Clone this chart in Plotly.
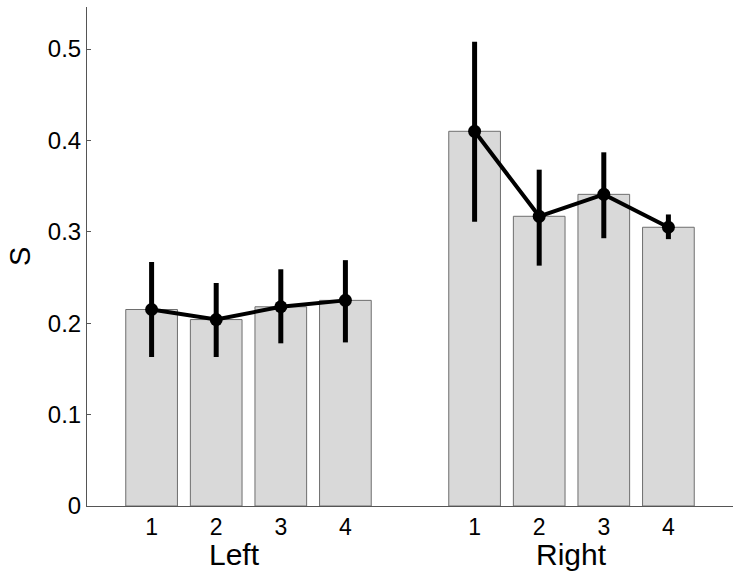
import plotly.graph_objects as go

positions_left = [1, 2, 3, 4]
positions_right = [6, 7, 8, 9]
left_values = [0.215, 0.204, 0.218, 0.225]
right_values = [0.410, 0.317, 0.341, 0.305]
left_err_plus = [0.052, 0.040, 0.041, 0.044]
left_err_minus = [0.052, 0.041, 0.040, 0.046]
right_err_plus = [0.098, 0.051, 0.046, 0.014]
right_err_minus = [0.099, 0.054, 0.048, 0.013]
tick_labels = ["1", "2", "3", "4", "1", "2", "3", "4"]
group_labels = ["Left", "Right"]
y_ticks = [0, 0.1, 0.2, 0.3, 0.4, 0.5]
y_tick_text = ["0", "0.1", "0.2", "0.3", "0.4", "0.5"]

FONT = "Liberation Sans, Arial, Helvetica, sans-serif"

fig = go.Figure()

fig.add_trace(go.Bar(
    x=positions_left + positions_right,
    y=left_values + right_values,
    width=0.8,
    marker=dict(color="#d9d9d9", line=dict(color="#6e6e6e", width=1)),
    showlegend=False,
))

for xs, ys, ep, em in [
    (positions_left, left_values, left_err_plus, left_err_minus),
    (positions_right, right_values, right_err_plus, right_err_minus),
]:
    fig.add_trace(go.Scatter(
        x=xs, y=ys,
        mode="lines+markers",
        line=dict(color="black", width=4),
        marker=dict(color="black", size=13),
        error_y=dict(type="data", array=ep, arrayminus=em,
                     color="black", thickness=5, width=0),
        showlegend=False,
    ))

fig.update_layout(
    width=740, height=580,
    margin=dict(l=87, r=7, t=7, b=74),
    plot_bgcolor="white", paper_bgcolor="white",
    font=dict(family=FONT, color="black", size=20),
    xaxis=dict(
        range=[0, 10],
        tickvals=positions_left + positions_right,
        ticktext=tick_labels,
        ticks="", showgrid=False, zeroline=False,
        showline=True, linecolor="#555555", linewidth=1,
        tickfont=dict(size=23, family=FONT),
        automargin=False,
    ),
    yaxis=dict(
        range=[0, 0.546],
        tickvals=y_ticks, ticktext=y_tick_text,
        ticks="inside", ticklen=4, tickcolor="#555555",
        showgrid=False, zeroline=False,
        showline=True, linecolor="#555555", linewidth=1,
        tickfont=dict(size=24, family=FONT),
        automargin=False,
    ),
    annotations=[
        dict(x=2.29, y=-0.098, xref="x", yref="paper", text=group_labels[0],
             showarrow=False, font=dict(size=30, family=FONT), yanchor="middle"),
        dict(x=7.5, y=-0.098, xref="x", yref="paper", text=group_labels[1],
             showarrow=False, font=dict(size=30, family=FONT), yanchor="middle"),
        dict(x=0, y=0.499, xref="paper", yref="paper", xanchor="center",
             yanchor="middle", text="S", showarrow=False, textangle=-90,
             font=dict(size=29, family=FONT), xshift=-67),
    ],
)

fig.write_html("out.html", config={"displayModeBar": False},
               post_script="document.body.style.margin='0';")
